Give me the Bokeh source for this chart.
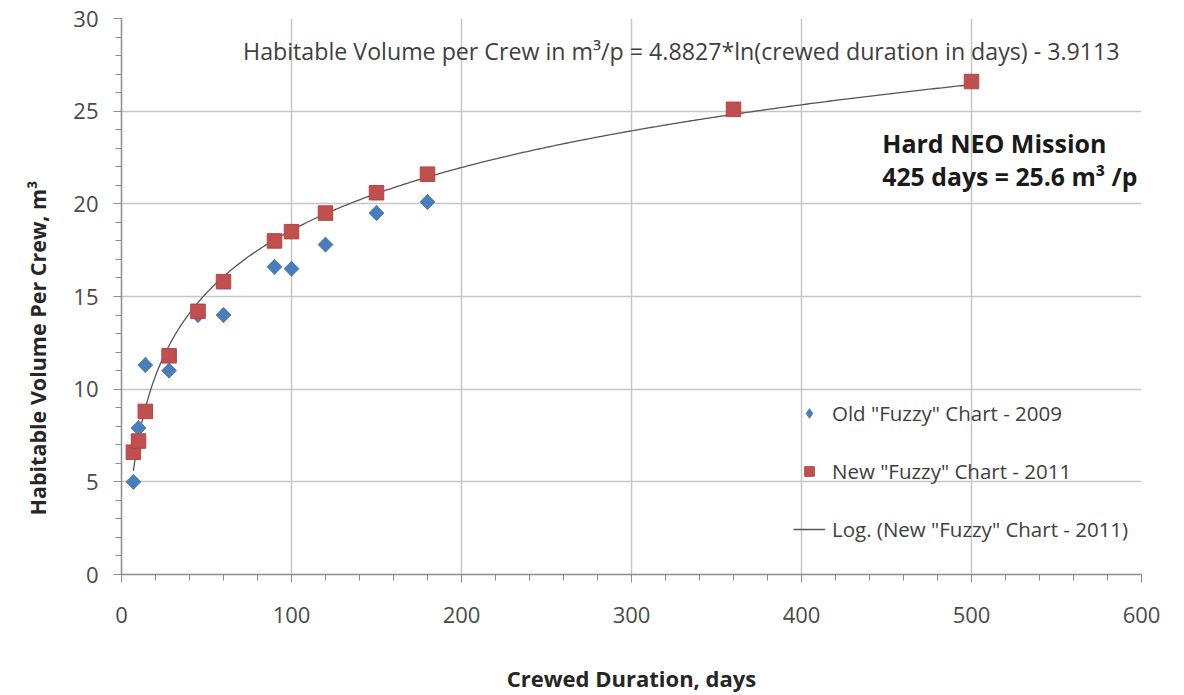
import numpy as np
from bokeh.plotting import figure
from bokeh.models import SingleIntervalTicker, Legend, LegendItem, Label, Title, ColumnDataSource
from bokeh.embed import file_html
from bokeh.resources import INLINE

# Data
old_days = [7, 10, 14, 28, 45, 60, 90, 100, 120, 150, 180]
old_vol = [5.0, 7.9, 11.3, 11.0, 14.0, 14.0, 16.6, 16.5, 17.8, 19.5, 20.1]
new_days = [7, 10, 14, 28, 45, 60, 90, 100, 120, 150, 180, 360, 500]
new_vol = [6.6, 7.2, 8.8, 11.8, 14.2, 15.8, 18.0, 18.5, 19.5, 20.6, 21.6, 25.1, 26.6]
fit_a = 4.8827
fit_b = -3.9113
x_ticks_interval = 100
y_ticks_interval = 5

FONT = "Open Sans"
TXT = "#404040"

p = figure(width=1184, height=695, x_range=(0, 600), y_range=(0, 30),
           output_backend="svg", toolbar_location=None,
           min_border_left=121, min_border_right=43, min_border_top=18, min_border_bottom=112)
p.outline_line_color = None
p.background_fill_color = "white"

p.xaxis.ticker = SingleIntervalTicker(interval=x_ticks_interval, num_minor_ticks=5)
p.yaxis.ticker = SingleIntervalTicker(interval=y_ticks_interval, num_minor_ticks=5)

for ax in (p.xaxis[0], p.yaxis[0]):
    ax.axis_line_color = "#8c8c8c"
    ax.axis_line_width = 1.5
    ax.major_tick_line_color = "#8c8c8c"
    ax.minor_tick_line_color = "#8c8c8c"
    ax.major_tick_in = 0
    ax.major_tick_out = 8
    ax.minor_tick_in = 0
    ax.minor_tick_out = 6
    ax.major_label_text_font = FONT
    ax.major_label_text_font_size = "22px"
    ax.major_label_text_color = "#4a4a4a"
    ax.axis_label_text_font = FONT
    ax.axis_label_text_font_size = "22px"
    ax.axis_label_text_font_style = "bold"
    ax.axis_label_text_color = "#262626"

p.xaxis.axis_label = "Crewed Duration, days"
p.xaxis.major_label_standoff = 24
p.xaxis.axis_label_standoff = 37
p.yaxis.major_label_standoff = 15

p.xgrid.ticker = p.xaxis.ticker
p.ygrid.ticker = p.yaxis.ticker
p.grid.grid_line_color = "#c6c6c6"
p.grid.grid_line_width = 1.5

# Vertical y-axis title as a side title (placed like the reference)
ytitle_kw = dict(text="Habitable Volume Per Crew, m\u00b3", align="left", offset=59,
                 text_font=FONT, text_font_size="21.5px", text_font_style="bold",
                 text_color="#262626")
try:
    ytitle = Title(standoff=38, **ytitle_kw)
except Exception:
    ytitle = Title(**ytitle_kw)
p.add_layout(ytitle, "left")

# Log trendline (Excel-style) from the printed coefficients over the data span
xs = np.linspace(min(new_days), max(new_days), 400)
ys = fit_a * np.log(xs) + fit_b
r_fit = p.line(xs, ys, line_color="#555555", line_width=1.3)

old_src = ColumnDataSource(dict(x=old_days, y=old_vol))
new_src = ColumnDataSource(dict(x=new_days, y=new_vol))
# diamond used for the legend swatch (covered by the rotated squares on the plot)
r_old_leg = p.scatter("x", "y", source=old_src, marker="diamond", size=15,
                      fill_color="#4a7ebb", line_color="#4a7ebb")
r_old = p.scatter("x", "y", source=old_src, marker="square", size=10.5, angle=np.pi / 4,
                  fill_color="#4a7ebb", line_color="#4a7ebb")
r_new = p.scatter("x", "y", source=new_src, marker="square", size=14.5,
                  fill_color="#c0504d", line_color="#b04643")

legend = Legend(items=[
    LegendItem(label='Old "Fuzzy" Chart - 2009', renderers=[r_old_leg]),
    LegendItem(label='New "Fuzzy" Chart - 2011', renderers=[r_new]),
    LegendItem(label='Log. (New "Fuzzy" Chart - 2011)', renderers=[r_fit]),
], location=(672, 31))
legend.background_fill_alpha = 0
legend.border_line_alpha = 0
legend.padding = 0
legend.margin = 0
legend.spacing = 30
legend.glyph_width = 32
legend.glyph_height = 24
legend.label_height = 24
legend.label_standoff = 7
legend.label_text_font = FONT
legend.label_text_font_size = "20.5px"
legend.label_text_color = TXT
p.add_layout(legend, "center")

p.add_layout(Label(x=71.5, y=28.25, text="Habitable Volume per Crew in m\u00b3/p = 4.8827*ln(crewed duration in days) - 3.9113",
                   text_font=FONT, text_font_size="23.2px", text_color=TXT, text_baseline="middle"))
p.add_layout(Label(x=447.5, y=23.3, text="Hard NEO Mission",
                   text_font=FONT, text_font_size="25px", text_font_style="bold",
                   text_color="#1a1a1a", text_baseline="middle"))
p.add_layout(Label(x=447.5, y=21.5, text="425 days = 25.6 m\u00b3 /p",
                   text_font=FONT, text_font_size="24.8px", text_font_style="bold",
                   text_color="#1a1a1a", text_baseline="middle"))

open("out.html", "w").write(file_html(p, INLINE))
